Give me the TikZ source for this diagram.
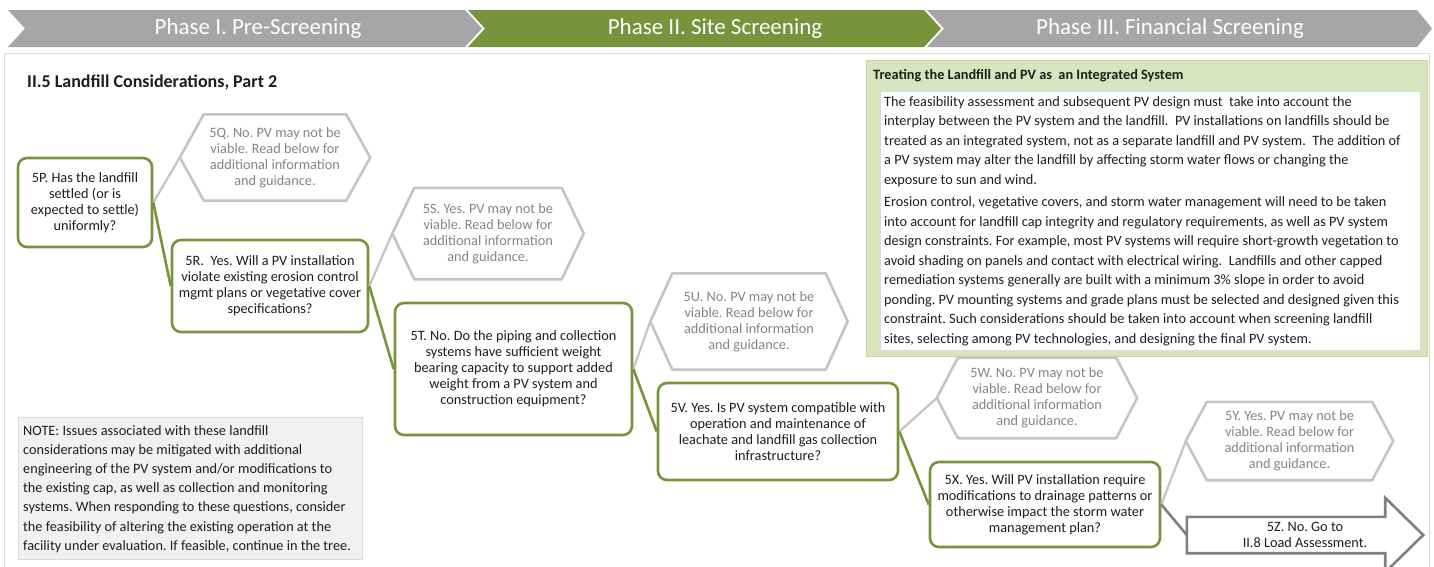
\documentclass[tikz,border=0pt]{standalone}
\usepackage{fontspec}
\setmainfont{Carlito}
\definecolor{pvgreen}{HTML}{77933C}
\definecolor{headgray}{HTML}{A6A6A6}
\definecolor{hexborder}{HTML}{C4C4C4}
\definecolor{hextext}{HTML}{858585}
\definecolor{txt}{HTML}{1E1E1E}
\definecolor{arrowgray}{HTML}{7F7F7F}
\definecolor{lightgreen}{HTML}{D8E4BE}
\definecolor{greenedge}{HTML}{C5D6A0}
\definecolor{notefill}{HTML}{F1F1F1}
\definecolor{frame}{HTML}{DADADA}
\newcommand{\fsbody}{\fontsize{14.3}{16}\selectfont}
\newcommand{\fsnote}{\fontsize{14.3}{19.2}\selectfont}
\newcommand{\fsgreen}{\fontsize{14.3}{19.5}\selectfont}
\newcommand{\fshead}{\fontsize{23}{26}\selectfont}
\newcommand{\fstitle}{\fontsize{18}{22}\selectfont\bfseries}
\tikzset{
  qbox/.style={draw=pvgreen, line width=2.6pt, rounded corners=9pt, fill=white,
    align=center, font=\fsbody, text=txt, inner sep=0pt},
  hextxt/.style={align=center, font=\fsbody, text=hextext, inner sep=0pt},
  hexline/.style={draw=hexborder, line width=2.6pt, line join=round},
  gline/.style={draw=pvgreen, line width=2.6pt},
  sline/.style={draw=hexborder, line width=2.2pt},
  aline/.style={draw=arrowgray, line width=2.6pt},
  headtxt/.style={font=\fshead, text=white, inner sep=0pt},
}
\newcommand{\hexnode}[7]{%
  \node[hextxt, minimum width=#4pt, minimum height=#5pt] (#1) at (#2,#3) {#7};
  \draw[hexline] (#1.north west) -- (#1.north east) -- ([xshift=#6pt]#1.east)
     -- (#1.south east) -- (#1.south west) -- ([xshift=-#6pt]#1.west) -- cycle;
  \coordinate (#1w) at ([xshift=-#6pt]#1.west);
}
\begin{document}
\frenchspacing
\begin{tikzpicture}[x=1pt,y=-1pt]
\useasboundingbox (0,0) rectangle (1434,566);
\fill[white] (0,0) rectangle (1434,566);
% outer frame
\draw[frame, line width=1pt] (4,53) rectangle (1429,590);
% header chevrons
\fill[headgray] (8,10) -- (465,10) -- (482,28.5) -- (465,47) -- (8,47) -- (25,28.5) -- cycle;
\fill[pvgreen] (468,10) -- (924,10) -- (941,28.5) -- (924,47) -- (468,47) -- (485,28.5) -- cycle;
\fill[headgray] (927,10) -- (1417,10) -- (1432,28.5) -- (1417,47) -- (927,47) -- (944,28.5) -- cycle;
\node[headtxt] (ph1) at (258,28) {Phase I. Pre-Screening};
\node[headtxt] (ph2) at (715,28) {Phase II. Site Screening};
\node[headtxt] (ph3) at (1170,28) {Phase III. Financial Screening};
% title
\node[anchor=west, inner sep=0pt, font=\fstitle, text=txt] (title) at (27,82) {II.5 Landfill Considerations, Part 2};
% green info box
\draw[greenedge, fill=lightgreen, line width=1pt] (866,60) rectangle (1427,356);
\draw[frame, fill=white, line width=0.8pt] (880,91) rectangle (1420,350);
\node[anchor=west, inner sep=0pt, font=\fontsize{14.3}{17}\selectfont\bfseries, text=txt] (gtitle) at (873,76) {Treating the Landfill and PV as\ \ an Integrated System};
\node[anchor=north west, inner sep=0pt, align=left, font=\fsgreen, text=txt] (gtext) at (884,96) {%
The feasibility assessment and subsequent PV design must\ \ take into account the\\
interplay between the PV system and the landfill.\ \ PV installations on landfills should be\\
treated as an integrated system, not as a separate landfill and PV system.\ \ The addition of\\
a PV system may alter the landfill by affecting storm water flows or changing the\\
exposure to sun and wind.\\[3pt]
Erosion control, vegetative covers, and storm water management will need to be taken\\
into account for landfill cap integrity and regulatory requirements, as well as PV system\\
design constraints. For example, most PV systems will require short-growth vegetation to\\
avoid shading on panels and contact with electrical wiring.\ \ Landfills and other capped\\
remediation systems generally are built with a minimum 3\% slope in order to avoid\\
ponding. PV mounting systems and grade plans must be selected and designed given this\\
constraint. Such considerations should be taken into account when screening landfill\\
sites, selecting among PV technologies, and designing the final PV system.};
% note box
\draw[frame, fill=notefill, line width=0.8pt] (18,417) rectangle (362,559);
\node[anchor=north west, inner sep=0pt, align=left, font=\fsnote, text=txt] (note) at (23,425) {%
NOTE: Issues associated with these landfill\\
considerations may be mitigated with additional\\
engineering of the PV system and/or modifications to\\
the existing cap, as well as collection and monitoring\\
systems. When responding to these questions, consider\\
the feasibility of altering the existing operation at the\\
facility under evaluation. If feasible, continue in the tree.};
% question boxes
\node[qbox, minimum width=134pt, minimum height=89pt] (p) at (85,202.5) {5P. Has the landfill\\settled (or is\\expected to settle)\\uniformly?};
\node[qbox, minimum width=196pt, minimum height=92pt] (r) at (270,286) {5R.\ \ Yes. Will a PV installation\\violate existing erosion control\\mgmt plans or vegetative cover\\specifications?};
\node[qbox, minimum width=237pt, minimum height=132pt] (t) at (513.5,369) {5T. No. Do the piping and collection\\systems have sufficient weight\\bearing capacity to support added\\weight from a PV system and\\construction equipment?};
\node[qbox, minimum width=240pt, minimum height=97pt] (v) at (778,431.5) {5V. Yes. Is PV system compatible with\\operation and maintenance of\\leachate and landfill gas collection\\infrastructure?};
\node[qbox, minimum width=230pt, minimum height=85pt] (x) at (1045,504.5) {5X. Yes. Will PV installation require\\modifications to drainage patterns or\\otherwise impact the storm water\\management plan?};
% outcome hexagons
\hexnode{q}{275}{157.5}{142}{86}{24}{5Q. No. PV may not be\\viable. Read below for\\additional information\\and guidance.}
\hexnode{s}{488}{233.5}{147}{91}{22}{5S. Yes. PV may not be\\viable. Read below for\\additional information\\and guidance.}
\hexnode{u}{749}{321.5}{153}{96}{22}{5U. No. PV may not be\\viable. Read below for\\additional information\\and guidance.}
\hexnode{w}{1037}{398}{158}{80}{21}{5W. No. PV may not be\\viable. Read below for\\additional information\\and guidance.}
\hexnode{y}{1289.5}{441}{165}{78}{21}{5Y. Yes. PV may not be\\viable. Read below for\\additional information\\and guidance.}
% 5Z arrow
\node[align=center, font=\fsbody, text=txt, inner sep=0pt, minimum width=236pt, minimum height=36pt] (z) at (1305,535) {5Z. No. Go to\\II.8 Load Assessment.};
\draw[aline, line join=miter] (z.north west) -- ([xshift=-38pt]z.north east) -- ([xshift=-38pt,yshift=19pt]z.north east)
  -- (z.east) -- ([xshift=-38pt,yshift=-19pt]z.south east) -- ([xshift=-38pt]z.south east) -- (z.south west) -- cycle;
% connectors
\draw[sline] (p.east) -- (qw);
\draw[gline] (p.east) -- (r.west);
\draw[sline] (r.east) -- (sw);
\draw[gline] (r.east) -- (t.west);
\draw[sline] (t.east) -- (uw);
\draw[gline] (t.east) -- (v.west);
\draw[sline] (v.east) -- (ww);
\draw[gline] (v.east) -- (x.west);
\draw[sline] (x.east) -- (yw);
\draw[aline] (x.east) -- (z.west);
\end{tikzpicture}
\end{document}
